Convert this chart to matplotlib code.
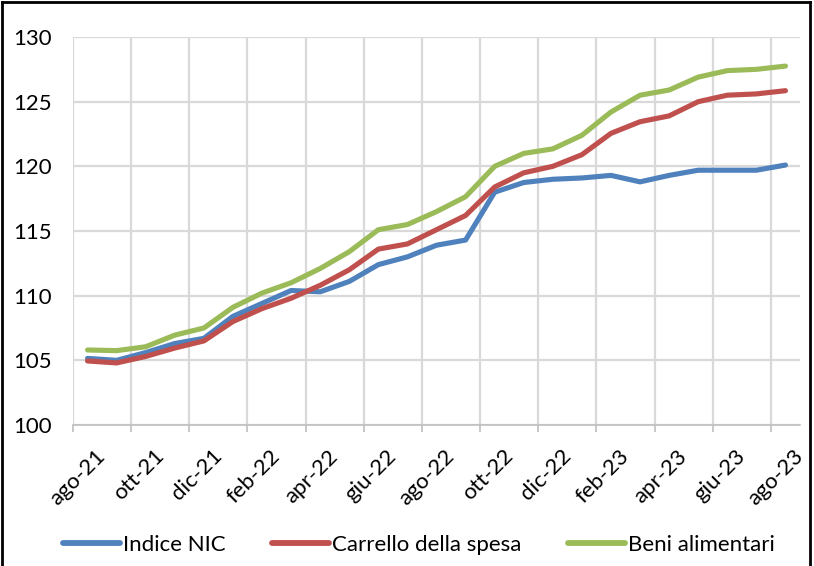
import numpy as np
import matplotlib.pyplot as plt
from matplotlib.lines import Line2D
from matplotlib.transforms import ScaledTranslation

plt.rcParams['font.family'] = ['Lato', 'DejaVu Sans']

# ---------------------------------------------------------------------------
# Data (monthly index values, ago-21 .. ago-23)
# ---------------------------------------------------------------------------
months = ['ago-21', 'set-21', 'ott-21', 'nov-21', 'dic-21', 'gen-22', 'feb-22',
          'mar-22', 'apr-22', 'mag-22', 'giu-22', 'lug-22', 'ago-22', 'set-22',
          'ott-22', 'nov-22', 'dic-22', 'gen-23', 'feb-23', 'mar-23', 'apr-23',
          'mag-23', 'giu-23', 'lug-23', 'ago-23']

indice_nic = [105.15, 105.0, 105.6, 106.3, 106.7, 108.4, 109.4, 110.4, 110.3,
              111.1, 112.4, 113.0, 113.9, 114.3, 118.0, 118.75, 119.0, 119.1,
              119.3, 118.8, 119.3, 119.7, 119.7, 119.7, 120.1]
carrello = [104.95, 104.8, 105.3, 105.95, 106.5, 108.0, 109.0, 109.8, 110.8,
            112.0, 113.6, 114.0, 115.1, 116.2, 118.4, 119.5, 120.0, 120.9,
            122.55, 123.45, 123.9, 125.0, 125.5, 125.6, 125.85]
beni_alim = [105.8, 105.75, 106.05, 106.95, 107.5, 109.1, 110.2, 111.0, 112.1,
             113.4, 115.1, 115.5, 116.5, 117.65, 120.0, 121.0, 121.35, 122.4,
             124.2, 125.5, 125.9, 126.9, 127.4, 127.5, 127.75]

series = [('Indice NIC', indice_nic, '#4F81BD'),
          ('Carrello della spesa', carrello, '#C0504D'),
          ('Beni alimentari', beni_alim, '#9BBB59')]

FS = 16

# ---------------------------------------------------------------------------
# Figure
# ---------------------------------------------------------------------------
fig = plt.figure(figsize=(8.14, 5.66), dpi=100)
ax = fig.add_axes([73 / 814, 1 - 425 / 566, 727 / 814, 388 / 566])

x = np.arange(len(months))
for name, vals, col in series:
    ax.plot(x, vals, color=col, lw=3.7, label=name, solid_capstyle='round',
            solid_joinstyle='round', zorder=3)

ax.set_xlim(-0.5, len(months) - 0.5)
ax.set_ylim(100, 130)
ax.set_yticks(range(100, 131, 5))
ax.tick_params(axis='y', length=0, labelsize=FS, pad=15, colors='black')

ax.set_xticks(x[::2])
ax.set_xticklabels(months[::2], rotation=45, ha='right', va='top',
                   rotation_mode='anchor', fontsize=FS)
ax.set_xticks(np.arange(-0.5, len(months) - 1, 2), minor=True)
ax.tick_params(axis='x', which='major', length=0, pad=15)
ax.tick_params(axis='x', which='minor', length=5, color='#BFBFBF', width=1.2)
shift = ScaledTranslation(0.08, 0, fig.dpi_scale_trans)
for lab in ax.get_xticklabels():
    lab.set_transform(lab.get_transform() + shift)

ax.grid(axis='y', color='#D9D9D9', lw=1.6, zorder=0)
ax.grid(axis='x', which='minor', color='#D9D9D9', lw=1.6, zorder=0)

for s in ['top', 'right', 'left']:
    ax.spines[s].set_visible(False)
ax.spines['bottom'].set_color('#BFBFBF')
ax.spines['bottom'].set_linewidth(1.2)

handles = [Line2D([], [], color=c, lw=4.2, solid_capstyle='round')
           for _, _, c in series]
fig.legend(handles, [n for n, _, _ in series], loc='center',
           bbox_to_anchor=(0.515, 1 - 545 / 566), ncol=3, frameon=False,
           fontsize=FS, handlelength=2.55, handletextpad=0.15,
           columnspacing=2.1)

# outer border
fig.add_artist(Line2D([0.003, 0.003], [0, 0.997], color='black', lw=2,
                      transform=fig.transFigure))
fig.add_artist(Line2D([0.003, 0.995], [0.997, 0.997], color='black', lw=2,
                      transform=fig.transFigure))
fig.add_artist(Line2D([0.995, 0.995], [0, 0.997], color='black', lw=2,
                      transform=fig.transFigure))

fig.savefig('out.png', dpi=100)
